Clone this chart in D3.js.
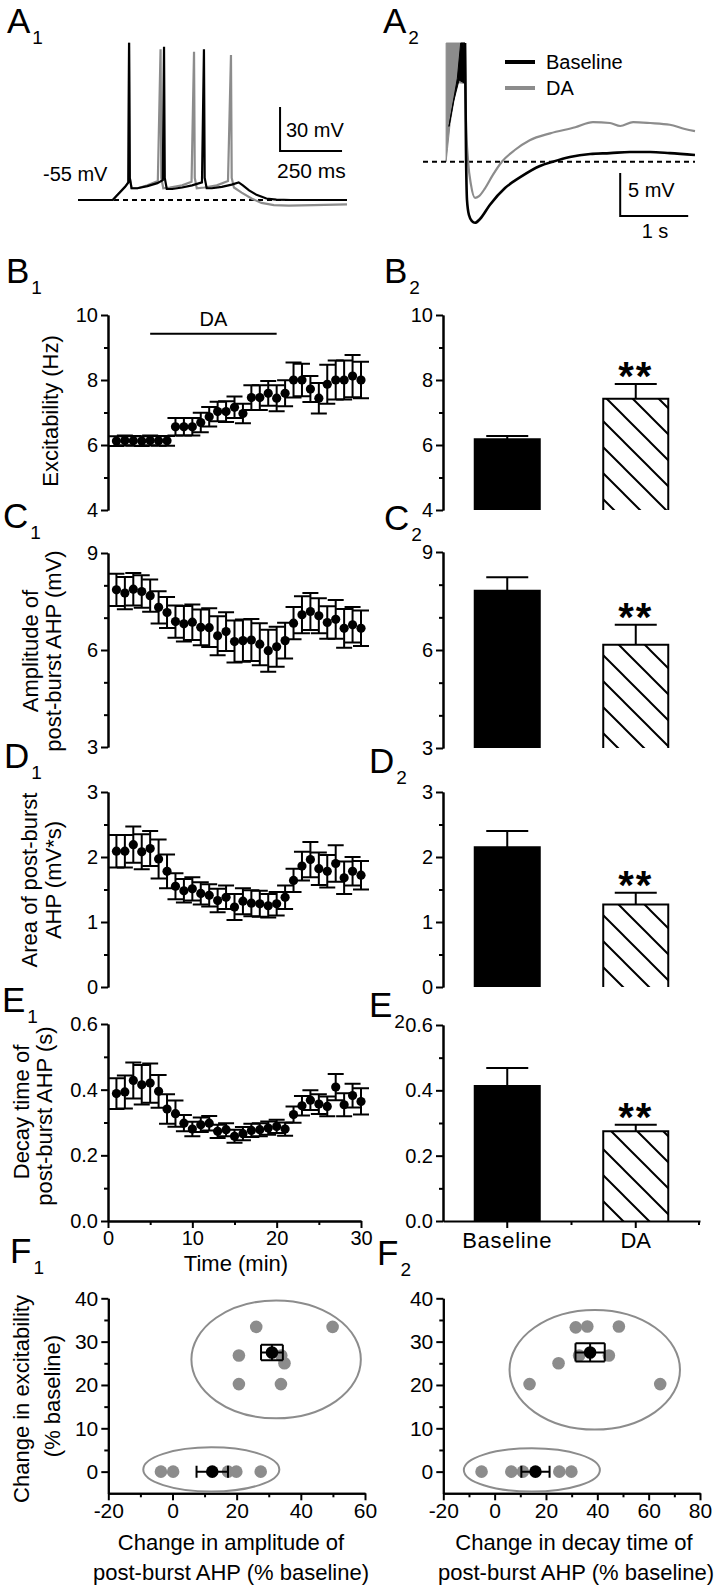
<!DOCTYPE html>
<html>
<head>
<meta charset="utf-8">
<script src="https://cdn.jsdelivr.net/npm/d3@7"></script>
<style>
body { margin: 0; background: #fff; }
svg text { font-family: "Liberation Sans", Arial, sans-serif; fill: #000; }
</style>
</head>
<body>
<svg id="fig" width="725" height="1593"></svg>
<script>
var FONT = '"Liberation Sans", Arial, sans-serif'
var grey = '#8c8c8c'
var svg = d3.select('#fig')

// ---------- A1 : burst traces (ms, mV) ----------
var a1Baseline = [[0,-55],[140,-55],[190,-46],[203,-43],[206,52.2],[209,-40],[216,-47],[240,-47],[280,-45.5],
  [320,-43.5],[342,-41.5],[347,49.5],[350,-40],[358,-47.5],[380,-47.5],[420,-46.5],[460,-45],[500,-43],
  [508,47.7],[511,-40],[519,-47],[540,-47],[580,-46],[620,-44.5],[648,-43],[665,-45],[690,-48.5],
  [720,-51.5],[760,-54],[800,-54.8],[860,-55],[1085,-55]]
var a1DA = [[0,-55],[140,-55],[190,-46],[203,-43],[206,52.2],[209,-40],[216,-47],[240,-47],[280,-45],
  [322,-42],[333,47.7],[336,-40],[344,-47],[370,-46.5],[420,-45],[458,-42.5],[468,46],[471,-40],[479,-47],
  [510,-46.5],[560,-45],[605,-42],[617,43.8],[620,-40],[629,-46.5],[660,-50],[700,-54],[740,-57],
  [790,-58.5],[850,-58.8],[950,-58.5],[1085,-58]]

// ---------- A2 : post-burst AHP (s, mV re. baseline) ----------
var a2BurstDA = [[0.34,0],[0.34,13.8],[0.618,13.8],[0.618,9.1],[0.50,9.2],[0.40,4.5],[0.36,1.5]]
var a2BurstBaseline = [[0.382,4.1],[0.505,9.7],[0.554,13.8],[0.618,13.8],[0.618,9.1],[0.53,9.5],[0.45,7.0]]
var a2DA = [[0.618,13.8],[0.632,4.8],[0.662,0.2],[0.706,-2.7],[0.765,-4.2],[0.824,-4.0],[0.912,-3.1],
  [1.03,-1.5],[1.16,0],[1.35,1.36],[1.57,2.5],[1.87,3.3],[2.24,4.0],[2.5,4.6],[2.75,4.5],[2.9,4.15],
  [3.09,4.6],[3.34,4.5],[3.63,4.3],[3.85,3.8],[4.0,3.56]]
var a2Baseline = [[0.618,13.8],[0.632,1.36],[0.647,-4.45],[0.676,-6.2],[0.72,-6.9],[0.765,-7.1],
  [0.838,-6.66],[0.985,-5.0],[1.206,-3.06],[1.43,-1.8],[1.72,-0.5],[1.91,0],[2.16,0.55],[2.46,0.9],
  [2.75,1.0],[3.04,1.13],[3.34,1.13],[3.63,1.0],[4.0,0.78]]

// ---------- B1-E1 : time course ----------
var minutes = [1,2,3,4,5,6,7,8,9,10,11,12,13,14,15,16,17,18,19,20,21,22,23,24,25,26,27,28,29,30]
var daPeriod = [5, 20]
var excit = [6.12,6.14,6.13,6.12,6.14,6.13,6.13,6.56,6.56,6.56,6.69,6.87,7.03,7.03,7.16,6.97,7.46,7.46,
  7.59,7.44,7.59,8.0,8.0,7.72,7.44,7.87,8.0,8.0,8.12,8.0]
var excitErr = [0.15,0.15,0.15,0.15,0.15,0.15,0.15,0.27,0.27,0.27,0.3,0.3,0.3,0.32,0.33,0.3,0.38,0.38,
  0.38,0.4,0.4,0.54,0.5,0.4,0.47,0.6,0.6,0.6,0.65,0.56]
var amp = [7.86,7.76,7.88,7.81,7.68,7.32,7.16,6.88,6.81,6.86,6.70,6.69,6.44,6.57,6.26,6.29,6.31,6.18,
  5.98,6.10,6.29,6.83,7.09,7.19,7.06,6.85,6.95,6.67,6.78,6.67]
var ampErr = [0.5,0.5,0.5,0.5,0.5,0.5,0.48,0.5,0.55,0.55,0.55,0.6,0.6,0.6,0.65,0.65,0.65,0.65,0.65,
  0.62,0.55,0.5,0.57,0.57,0.54,0.5,0.6,0.6,0.55,0.55]
var area = [2.09,2.09,2.19,2.08,2.13,1.97,1.78,1.55,1.48,1.51,1.44,1.41,1.33,1.38,1.23,1.32,1.29,1.28,
  1.25,1.28,1.38,1.64,1.86,1.96,1.82,1.78,1.90,1.68,1.78,1.72]
var areaErr = [0.25,0.25,0.28,0.27,0.27,0.3,0.26,0.2,0.18,0.18,0.17,0.17,0.18,0.18,0.2,0.2,0.2,0.2,
  0.18,0.18,0.18,0.18,0.22,0.27,0.25,0.25,0.28,0.25,0.22,0.22]
var decay = [0.388,0.393,0.428,0.415,0.42,0.395,0.341,0.327,0.298,0.28,0.293,0.298,0.273,0.278,0.258,
  0.266,0.276,0.278,0.283,0.288,0.28,0.324,0.351,0.368,0.356,0.349,0.408,0.354,0.382,0.364]
var decayErr = [0.047,0.05,0.055,0.06,0.06,0.05,0.045,0.04,0.025,0.022,0.022,0.022,0.02,0.02,0.02,
  0.02,0.02,0.02,0.02,0.02,0.02,0.025,0.03,0.03,0.03,0.03,0.04,0.035,0.036,0.04]

// ---------- B2-E2 : bars ----------
var groups = ['Baseline', 'DA']
var excitBar = [6.18, 7.42], excitBarErr = [0.1, 0.46]
var ampBar = [7.81, 6.16], ampBarErr = [0.42, 0.61]
var areaBar = [2.15, 1.27], areaBarErr = [0.25, 0.18]
var decayBar = [0.413, 0.275], decayBarErr = [0.055, 0.02]

// ---------- F1/F2 : scatter (% baseline) ----------
var f1AmpHigh = [26.1, 49.9, 20.7, 33.9, 34.9, 20.7, 33.8]
var f1ExcHigh = [33.4, 33.4, 26.8, 26.8, 25, 20.2, 20.2]
var f1AmpLow = [-3.6, 0.2, 17.3, 19.9, 27.5]
var f1ExcLow = [0, 0, 0, 0, 0]
var f1Means = [{x: 31.0, y: 27.5, xe: 3.4, ye: 1.8}, {x: 12.4, y: 0, xe: 4.9, ye: 0}]
var f1Rings = [{cx: 32.3, cy: 25.9, rx: 26.4, ry: 13.6}, {cx: 12.1, cy: 0.5, rx: 21.2, ry: 5.1}]

var f2DecHigh = [31.6, 36.1, 48.4, 32.9, 44.5, 24.9, 13.6, 64.5]
var f2ExcHigh = [33.3, 33.5, 33.5, 26.8, 26.8, 25, 20.2, 20.2]
var f2DecLow = [-5.1, 6.5, 11.0, 25.2, 29.9]
var f2ExcLow = [0, 0, 0, 0, 0]
var f2Means = [{x: 37.2, y: 27.5, xe: 5.7, ye: 2.1}, {x: 15.9, y: 0, xe: 5.5, ye: 0}]
var f2Rings = [{cx: 39.0, cy: 23.5, rx: 33.2, ry: 13.8}, {cx: 14.5, cy: 0.4, rx: 26.5, ry: 5.0}]

// ================= helpers =================
function inkAxis(g, fs) {
  g.selectAll('path, line').attr('stroke', '#000').attr('stroke-width', 2)
  g.selectAll('text').attr('font-family', FONT).attr('font-size', fs).attr('fill', '#000')
}

function yAx(y, x0, majors, minors, fmt, fs) {
  var g = svg.append('g').attr('transform', 'translate(' + x0 + ',0)')
  g.append('g').call(d3.axisLeft(y).tickValues(minors).tickSize(4).tickSizeOuter(0).tickFormat(''))
  g.append('g').call(d3.axisLeft(y).tickValues(majors).tickSize(7).tickSizeOuter(0).tickPadding(3).tickFormat(fmt))
  inkAxis(g, fs || 20)
  return g
}

function txt(x, y, s, fs, anchor) {
  return svg.append('text').attr('x', x).attr('y', y).attr('font-size', fs)
    .attr('text-anchor', anchor || 'start').text(s)
}

function vtxt(x, y, s, fs) {
  return svg.append('text').attr('transform', 'translate(' + x + ',' + y + ') rotate(-90)')
    .attr('text-anchor', 'middle').attr('font-size', fs).text(s)
}

function panelLabel(x, y, letter, sub) {
  var t = svg.append('text').attr('x', x).attr('y', y).attr('font-size', 35).text(letter)
  t.append('tspan').attr('font-size', 19).attr('dy', 11).attr('dx', 2).text(sub)
}

// ================= A1 =================
var xa1 = d3.scaleLinear().domain([0, 1085]).range([78, 347])
var ya1 = d3.scaleLinear().domain([-55, 0]).range([200, 119.3])
var lineA1 = d3.line().x(function(d) { return xa1(d[0]) }).y(function(d) { return ya1(d[1]) })

svg.append('line').attr('x1', xa1(0)).attr('x2', xa1(1085)).attr('y1', ya1(-55)).attr('y2', ya1(-55))
  .attr('stroke', '#000').attr('stroke-width', 2).attr('stroke-dasharray', '5,4')
svg.append('path').attr('d', lineA1(a1DA)).attr('fill', 'none').attr('stroke', grey).attr('stroke-width', 2.2)
svg.append('path').attr('d', lineA1(a1Baseline)).attr('fill', 'none').attr('stroke', '#000').attr('stroke-width', 2.2)

// scale bar 250 ms / 30 mV
var sbA1 = {t: 815, v: -21.6}
svg.append('path')
  .attr('d', 'M' + xa1(sbA1.t) + ',' + ya1(sbA1.v + 30) + 'V' + ya1(sbA1.v) + 'H' + xa1(sbA1.t + 250))
  .attr('fill', 'none').attr('stroke', '#000').attr('stroke-width', 2)
txt(286, 137, '30 mV', 20)
txt(277, 178, '250 ms', 21)
txt(43, 181, '-55 mV', 20)
panelLabel(7, 33, 'A', '1')

// ================= A2 =================
var xa2 = d3.scaleLinear().domain([0, 4]).range([423, 695])
var ya2 = d3.scaleLinear().domain([0, 10]).range([161.7, 75.7])
var lineA2 = d3.line().x(function(d) { return xa2(d[0]) }).y(function(d) { return ya2(d[1]) })
var smoothA2 = d3.line().x(function(d) { return xa2(d[0]) }).y(function(d) { return ya2(d[1]) })
  .curve(d3.curveMonotoneX)

svg.append('path').attr('d', lineA2(a2BurstDA) + 'Z').attr('fill', grey).attr('stroke', grey).attr('stroke-width', 1)
svg.append('path').attr('d', lineA2(a2BurstBaseline) + 'Z').attr('fill', '#000').attr('stroke', '#000').attr('stroke-width', 1)
svg.append('line').attr('x1', xa2(0)).attr('x2', xa2(4)).attr('y1', ya2(0)).attr('y2', ya2(0))
  .attr('stroke', '#000').attr('stroke-width', 2).attr('stroke-dasharray', '5,4')
svg.append('path').attr('d', smoothA2(a2DA)).attr('fill', 'none').attr('stroke', grey).attr('stroke-width', 2.2)
svg.append('path').attr('d', smoothA2(a2Baseline)).attr('fill', 'none').attr('stroke', '#000').attr('stroke-width', 2.6)

var sbA2 = {t: 2.9, v: -6.31}
svg.append('path')
  .attr('d', 'M' + xa2(sbA2.t) + ',' + ya2(sbA2.v + 5) + 'V' + ya2(sbA2.v) + 'H' + xa2(sbA2.t + 1))
  .attr('fill', 'none').attr('stroke', '#000').attr('stroke-width', 2)
txt(628, 197, '5 mV', 20)
txt(655, 238, '1 s', 20, 'middle')

// legend
svg.append('line').attr('x1', 505).attr('x2', 535).attr('y1', 62).attr('y2', 62).attr('stroke', '#000').attr('stroke-width', 4)
svg.append('line').attr('x1', 505).attr('x2', 535).attr('y1', 88).attr('y2', 88).attr('stroke', grey).attr('stroke-width', 4)
txt(546, 69, 'Baseline', 20)
txt(546, 95, 'DA', 20)
panelLabel(383, 33, 'A', '2')

// ================= time-course panels =================
var xt = d3.scaleLinear().domain([0, 30]).range([108, 361])

function timePanel(vals, errs, y, majors, minors, fmt) {
  yAx(y, 108, majors, minors, fmt)
  var rows = minutes.map(function(m, i) { return {t: m, v: vals[i], e: errs[i]} })
  var g = svg.append('g')
  g.selectAll('path').data(rows).enter().append('path')
    .attr('d', function(d) {
      var x = xt(d.t), hi = y(d.v + d.e), lo = y(d.v - d.e)
      return 'M' + x + ',' + lo + 'V' + hi + 'M' + (x - 8) + ',' + hi + 'H' + (x + 8) +
        'M' + (x - 8) + ',' + lo + 'H' + (x + 8)
    })
    .attr('fill', 'none').attr('stroke', '#000').attr('stroke-width', 2)
  g.selectAll('circle').data(rows).enter().append('circle')
    .attr('cx', function(d) { return xt(d.t) })
    .attr('cy', function(d) { return y(d.v) })
    .attr('r', 4.6).attr('fill', '#000')
}

var yB1 = d3.scaleLinear().domain([4, 10]).range([510, 315])
timePanel(excit, excitErr, yB1, [4, 6, 8, 10], [5, 7, 9], d3.format('d'))
svg.append('line').attr('x1', xt(daPeriod[0])).attr('x2', xt(daPeriod[1]))
  .attr('y1', yB1(9.42)).attr('y2', yB1(9.42)).attr('stroke', '#000').attr('stroke-width', 2)
txt(xt((daPeriod[0] + daPeriod[1]) / 2), yB1(9.42) - 8, 'DA', 20, 'middle')
vtxt(58, 411, 'Excitability (Hz)', 22)
panelLabel(6, 283, 'B', '1')

var yC1 = d3.scaleLinear().domain([3, 9]).range([747, 553])
timePanel(amp, ampErr, yC1, [3, 6, 9], [4, 5, 7, 8], d3.format('d'))
vtxt(38, 651, 'Amplitude of', 22)
vtxt(61, 651, 'post-burst AHP (mV)', 22)
panelLabel(3, 528, 'C', '1')

var yD1 = d3.scaleLinear().domain([0, 3]).range([987, 792])
timePanel(area, areaErr, yD1, [0, 1, 2, 3], [0.5, 1.5, 2.5], d3.format('d'))
vtxt(37, 880, 'Area of post-burst', 22)
vtxt(61, 880, 'AHP (mV*s)', 22)
panelLabel(4, 768, 'D', '1')

var yE1 = d3.scaleLinear().domain([0, 0.6]).range([1221, 1024])
timePanel(decay, decayErr, yE1, [0, 0.2, 0.4, 0.6], [0.1, 0.3, 0.5], d3.format('.1f'))
var gxE1 = svg.append('g').attr('transform', 'translate(0,' + yE1(0) + ')')
gxE1.append('g').call(d3.axisBottom(xt).tickValues([5, 15, 25]).tickSize(4).tickSizeOuter(0).tickFormat(''))
gxE1.append('g').call(d3.axisBottom(xt).tickValues([0, 10, 20, 30]).tickSize(7).tickSizeOuter(0).tickPadding(3).tickFormat(d3.format('d')))
inkAxis(gxE1, 20)
txt(236, 1271, 'Time (min)', 22, 'middle')
vtxt(29, 1112, 'Decay time of', 22)
vtxt(52, 1116, 'post-burst AHP (s)', 22)
panelLabel(2, 1012, 'E', '1')

// ================= bar panels =================
var defs = svg.append('defs')
var hatch = defs.append('pattern').attr('id', 'hatch').attr('patternUnits', 'userSpaceOnUse')
  .attr('width', 26).attr('height', 26)
hatch.append('rect').attr('width', 26).attr('height', 26).attr('fill', '#fff')
hatch.append('path').attr('d', 'M0,0L26,26M-13,13L13,39M13,-13L39,13')
  .attr('stroke', '#000').attr('stroke-width', 2)

var xb = d3.scaleBand().domain(groups).range([443, 700]).paddingInner(0.494).paddingOuter(0.247)

function barPanel(vals, errs, y, majors, minors, fmt) {
  yAx(y, 443, majors, minors, fmt)
  var base = y.domain()[0]
  var rows = groups.map(function(k, i) { return {k: k, v: vals[i], e: errs[i]} })
  var g = svg.append('g')
  g.selectAll('path.bar').data(rows).enter().append('path').attr('class', 'bar')
    .attr('d', function(d) {
      var x0 = xb(d.k), x1 = x0 + xb.bandwidth()
      return 'M' + x0 + ',' + y(base) + 'V' + y(d.v) + 'H' + x1 + 'V' + y(base)
    })
    .attr('fill', function(d, i) { return i === 0 ? '#000' : 'url(#hatch)' })
    .attr('stroke', '#000').attr('stroke-width', 2)
  g.selectAll('path.err').data(rows).enter().append('path').attr('class', 'err')
    .attr('d', function(d) {
      var cx = xb(d.k) + xb.bandwidth() / 2
      return 'M' + cx + ',' + y(d.v) + 'V' + y(d.v + d.e) + 'M' + (cx - 21) + ',' + y(d.v + d.e) + 'H' + (cx + 21)
    })
    .attr('fill', 'none').attr('stroke', '#000').attr('stroke-width', 2)
  var da = rows[1]
  g.append('text').attr('x', xb(da.k) + xb.bandwidth() / 2).attr('y', y(da.v + da.e) + 6)
    .attr('text-anchor', 'middle').attr('font-size', 40).attr('font-weight', 'bold')
    .attr('letter-spacing', 2).text('**')
}

barPanel(excitBar, excitBarErr, d3.scaleLinear().domain([4, 10]).range([510, 315]), [4, 6, 8, 10], [5, 7, 9], d3.format('d'))
panelLabel(384, 283, 'B', '2')
barPanel(ampBar, ampBarErr, d3.scaleLinear().domain([3, 9]).range([748, 552]), [3, 6, 9], [4, 5, 7, 8], d3.format('d'))
panelLabel(384, 530, 'C', '2')
barPanel(areaBar, areaBarErr, d3.scaleLinear().domain([0, 3]).range([987, 792]), [0, 1, 2, 3], [0.5, 1.5, 2.5], d3.format('d'))
panelLabel(369, 773, 'D', '2')
var yE2 = d3.scaleLinear().domain([0, 0.6]).range([1221, 1025])
barPanel(decayBar, decayBarErr, yE2, [0, 0.2, 0.4, 0.6], [0.1, 0.3, 0.5], d3.format('.1f'))
panelLabel(369, 1017, 'E', '2')

var gxE2 = svg.append('g').attr('transform', 'translate(0,' + yE2(0) + ')')
gxE2.call(d3.axisBottom(xb).tickSize(7).tickSizeOuter(0).tickPadding(4))
inkAxis(gxE2, 22)
gxE2.selectAll('text').filter(function(d) { return d === 'Baseline' }).attr('letter-spacing', 0.7)
var mid = (xb('Baseline') + xb.bandwidth() + xb('DA')) / 2
gxE2.append('line').attr('x1', mid).attr('x2', mid).attr('y1', 0).attr('y2', 4).attr('stroke', '#000').attr('stroke-width', 2)
gxE2.append('line').attr('x1', 699).attr('x2', 699).attr('y1', 0).attr('y2', 4).attr('stroke', '#000').attr('stroke-width', 2)

// ================= scatter panels =================
var yF = d3.scaleLinear().domain([-5, 40]).range([1493.3, 1298.3])

function scatterPanel(x, xHigh, yHigh, xLow, yLow, means, rings, xMajors, xMinors) {
  var x0 = x.range()[0]
  yAx(yF, x0, [0, 10, 20, 30, 40], [5, 15, 25, 35], d3.format('d'), 21)
  var gx = svg.append('g').attr('transform', 'translate(0,' + yF(-5) + ')')
  gx.append('g').call(d3.axisBottom(x).tickValues(xMinors).tickSize(4).tickSizeOuter(0).tickFormat(''))
  gx.append('g').call(d3.axisBottom(x).tickValues(xMajors).tickSize(7).tickSizeOuter(0).tickPadding(3)
    .tickFormat(function(d) { return String(d) }))
  inkAxis(gx, 21)

  var g = svg.append('g')
  g.selectAll('ellipse').data(rings).enter().append('ellipse')
    .attr('cx', function(d) { return x(d.cx) }).attr('cy', function(d) { return yF(d.cy) })
    .attr('rx', function(d) { return x(d.cx + d.rx) - x(d.cx) })
    .attr('ry', function(d) { return yF(d.cy) - yF(d.cy + d.ry) })
    .attr('fill', 'none').attr('stroke', grey).attr('stroke-width', 2)
  var pts = xHigh.map(function(v, i) { return [v, yHigh[i]] })
    .concat(xLow.map(function(v, i) { return [v, yLow[i]] }))
  g.selectAll('circle.pt').data(pts).enter().append('circle').attr('class', 'pt')
    .attr('cx', function(d) { return x(d[0]) }).attr('cy', function(d) { return yF(d[1]) })
    .attr('r', 6.3).attr('fill', grey)
  g.selectAll('path.mean').data(means).enter().append('path').attr('class', 'mean')
    .attr('d', function(d) {
      var cx = x(d.x), cy = yF(d.y)
      var xl = x(d.x - d.xe), xr = x(d.x + d.xe)
      var yt = yF(d.y + d.ye), yb = yF(d.y - d.ye)
      var hv = d.ye > 0 ? (yb - yt) / 2 : 6
      var hh = xr - cx
      var p = 'M' + xl + ',' + cy + 'H' + xr +
        'M' + xl + ',' + (cy - hv) + 'V' + (cy + hv) + 'M' + xr + ',' + (cy - hv) + 'V' + (cy + hv)
      if (d.ye > 0) {
        p += 'M' + cx + ',' + yt + 'V' + yb + 'M' + (cx - hh) + ',' + yt + 'H' + (cx + hh) +
          'M' + (cx - hh) + ',' + yb + 'H' + (cx + hh)
      }
      return p
    })
    .attr('fill', 'none').attr('stroke', '#000').attr('stroke-width', 2)
  g.selectAll('circle.mn').data(means).enter().append('circle').attr('class', 'mn')
    .attr('cx', function(d) { return x(d.x) }).attr('cy', function(d) { return yF(d.y) })
    .attr('r', 6.3).attr('fill', '#000')
}

var xF1 = d3.scaleLinear().domain([-20, 60]).range([108.3, 365])
scatterPanel(xF1, f1AmpHigh, f1ExcHigh, f1AmpLow, f1ExcLow, f1Means, f1Rings, [-20, 0, 20, 40, 60], [-10, 10, 30, 50])
txt(231, 1550, 'Change in amplitude of', 22, 'middle')
txt(231, 1580, 'post-burst AHP (% baseline)', 22, 'middle')
vtxt(29, 1399, 'Change in excitability', 22)
vtxt(60, 1396, '(% baseline)', 22)
panelLabel(10, 1263, 'F', '1')

var xF2 = d3.scaleLinear().domain([-20, 80]).range([443.3, 700])
scatterPanel(xF2, f2DecHigh, f2ExcHigh, f2DecLow, f2ExcLow, f2Means, f2Rings, [-20, 0, 20, 40, 60, 80], [-10, 10, 30, 50, 70])
txt(574, 1550, 'Change in decay time of', 22, 'middle')
txt(576, 1580, 'post-burst AHP (% baseline)', 22, 'middle')
panelLabel(377, 1265, 'F', '2')
</script>
</body>
</html>
